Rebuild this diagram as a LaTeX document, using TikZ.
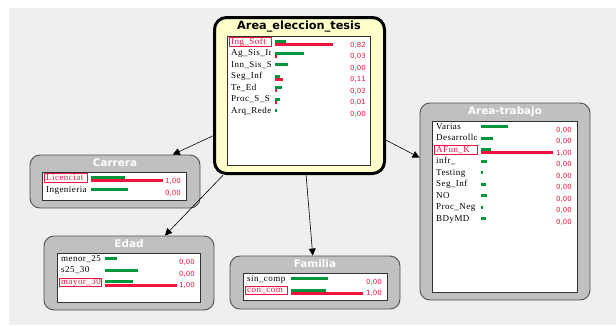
\documentclass[tikz,border=0pt]{standalone}
\usepackage{fontspec}
\setmainfont{Liberation Serif}
\newfontfamily\lblfont[LetterSpace=5]{Liberation Serif}
\newfontfamily\titlefont{DejaVu Sans}
\newfontfamily\valfont{DejaVu Sans}
\usetikzlibrary{arrows.meta}
\definecolor{bgc}{HTML}{EFEFEF}
\definecolor{ndgray}{HTML}{C0C0C0}
\definecolor{ndborder}{HTML}{505050}
\definecolor{yel}{HTML}{FFFFCC}
\definecolor{pred}{HTML}{F0143C}
\definecolor{pgreen}{HTML}{00963C}
\newcommand\staterow[9]{%
  \begin{scope}
    \clip (#2-3,#3-6) rectangle (#5-4.5,#3+6);
    \node[lbl] (#1-l) at (#2,#3) {#4};
  \end{scope}
  \fill[pgreen] (#5,#3-2) rectangle ++(#6,3);
  \ifdim #7pt>0pt \fill[pred] (#5,#3+1.3) rectangle ++(#7,3);\fi
  \node[val] (#1-v) at (#8,#3+2.7) {#9};
}
\newcommand\selbox[3]{\draw[pred, line width=0.6pt] (#1-1.5,#2-4.5) rectangle (#3-4,#2+4);}
\begin{document}
\begin{tikzpicture}[x=1pt,y=-1pt,
  lbl/.style={anchor=west, inner sep=0pt, text height=6pt, text depth=2pt, font=\lblfont\fontsize{9}{9}\selectfont},
  val/.style={anchor=east, inner sep=0pt, text height=5pt, text depth=0pt, text=pred, font=\valfont\fontsize{7}{7}\selectfont},
  netnode/.style={draw=ndborder, fill=ndgray, rounded corners=10pt, line width=0.9pt, minimum width=170pt, inner sep=0pt},
  mainnode/.style={draw=black, fill=yel, rounded corners=12pt, line width=3pt, inner sep=0pt},
  ttl/.style={inner sep=0pt, text=white, font=\titlefont\bfseries\fontsize{10.4}{11}\selectfont},
  inbox/.style={draw=black!80, fill=white, line width=0.8pt},
  edge/.style={draw=black, line width=0.6pt, -{Triangle[length=7pt,width=7pt]}}]
\fill[bgc] (9,8) rectangle (616,325);
\useasboundingbox (0,0) rectangle (616,325);

% outer nodes
\node[mainnode, minimum width=170pt, minimum height=156pt] (main) at (299.5,95.5) {};
\node[netnode, minimum height=53pt] (carrera) at (115,181.5) {};
\node[netnode, minimum height=74pt] (edad) at (129,273) {};
\node[netnode, minimum height=53pt] (familia) at (315,282.5) {};
\node[netnode, minimum height=197pt] (trabajo) at (505,201.5) {};

% edges
\draw[edge] (main) -- (carrera);
\draw[edge] (main) -- (edad);
\draw[edge] (main) -- (familia);
\draw[edge] (main) -- (trabajo);

% main node
\node[ttl, text=black, font=\titlefont\bfseries\fontsize{11.3}{12}\selectfont] (main-t) at (299,27) {Area\_eleccion\_tesis};
\draw[inbox] (227,36) rectangle (370,165);
\selbox{231}{42}{275}
\staterow{m1}{231}{42}{\textcolor{pred}{Ing\_Soft}}{275}{11}{58}{366}{0,82}
\staterow{m2}{231}{53.5}{Ag\_Sis\_Ir}{275}{29}{2}{366}{0,03}
\staterow{m3}{231}{65}{Inn\_Sis\_S}{275}{13}{0}{366}{0,00}
\staterow{m4}{231}{76.5}{Seg\_Inf}{275}{5}{8}{366}{0,11}
\staterow{m5}{231}{88}{Te\_Ed}{275}{7}{2}{366}{0,02}
\staterow{m6}{231}{99.5}{Proc\_S\_S'}{275}{5}{1.5}{366}{0,01}
\staterow{m7}{231}{111}{Arq\_Rede}{275}{1.5}{0}{366}{0,00}

% Carrera
\node[ttl] (carrera-t) at (115,163) {Carrera};
\draw[inbox] (42,172.5) rectangle (186,200.5);
\selbox{46}{178}{91}
\staterow{c1}{46}{178}{\textcolor{pred}{Licenciat}}{91}{34}{72}{181}{1,00}
\staterow{c2}{46}{190}{Ingenieria}{91}{37}{0}{181}{0,00}

% Edad
\node[ttl] (edad-t) at (129,244) {Edad};
\draw[inbox] (57,253) rectangle (200,302);
\selbox{61}{282.3}{105}
\staterow{e1}{61}{259.3}{menor\_25}{105}{11.5}{0}{195}{0,00}
\staterow{e2}{61}{270.8}{s25\_30}{105}{33}{0}{195}{0,00}
\staterow{e3}{61}{282.3}{\textcolor{pred}{mayor\_30}}{105}{28}{72}{195}{1,00}

% Familia
\node[ttl] (familia-t) at (315,264) {Familia};
\draw[inbox] (243,273) rectangle (387,300);
\selbox{247}{290.5}{291}
\staterow{f1}{247}{279}{sin\_comp}{291}{37}{0}{382}{0,00}
\staterow{f2}{247}{290.5}{\textcolor{pred}{con\_com}}{291}{35}{72}{382}{1,00}

% Area-trabajo
\node[ttl] (trabajo-t) at (505,112) {Area-trabajo};
\draw[inbox] (432,121) rectangle (577,292);
\selbox{436}{150}{481}
\staterow{a1}{436}{127}{Varias}{481}{27}{0}{572}{0,00}
\staterow{a2}{436}{138.5}{Desarrollo}{481}{11.5}{0}{572}{0,00}
\staterow{a3}{436}{150}{\textcolor{pred}{AFun\_K}}{481}{10}{72}{572}{1,00}
\staterow{a4}{436}{161.5}{infr\_}{481}{6}{0}{572}{0,00}
\staterow{a5}{436}{173}{Testing}{481}{1.7}{0}{572}{0,00}
\staterow{a6}{436}{184.5}{Seg\_Inf}{481}{5.3}{0}{572}{0,00}
\staterow{a7}{436}{196}{NO}{481}{6}{0}{572}{0,00}
\staterow{a8}{436}{207.5}{Proc\_Neg}{481}{2.3}{0}{572}{0,00}
\staterow{a9}{436}{219}{BDyMD}{481}{4.7}{0}{572}{0,00}
\end{tikzpicture}
\end{document}
